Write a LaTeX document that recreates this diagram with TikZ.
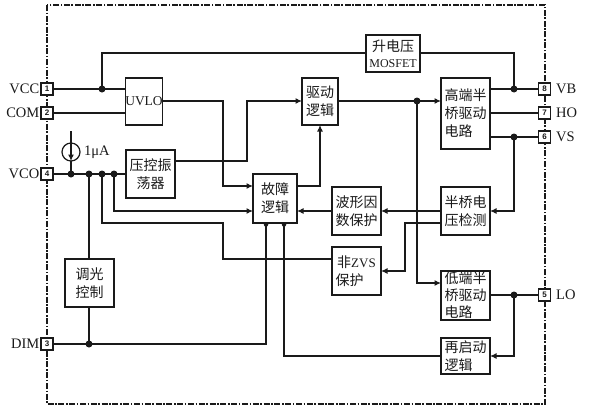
\documentclass[tikz,border=0pt]{standalone}
\usepackage{fontspec}
\setmainfont{Liberation Serif}
\setsansfont{Liberation Sans}
\newfontfamily\cjk{Noto Sans CJK SC}
\usetikzlibrary{arrows.meta}
\definecolor{ink}{HTML}{1A1A1A}
\tikzset{
  every node/.style={text=ink},
  blockbox/.style={draw=ink,line width=1.25pt,fill=white,inner sep=0pt,outer sep=0pt,align=center,
     font=\fontsize{14}{18}\selectfont\cjk},
  pinbox/.style={draw=ink,line width=1.25pt,fill=white,inner sep=0pt,outer sep=0pt,
     minimum width=12pt,minimum height=12pt,font=\fontsize{8}{8}\selectfont\sffamily\bfseries},
  pinlabel/.style={inner sep=0pt,font=\fontsize{14.5}{14.5}\selectfont},
  wire/.style={draw=ink,line width=1.25pt},
  arrowwire/.style={wire,-{Latex[length=6.5pt,width=6pt]}},
  joint/.style={circle,fill=ink,inner sep=0pt,outer sep=0pt,minimum size=7pt},
  smalljoint/.style={circle,fill=ink,inner sep=0pt,outer sep=0pt,minimum size=4.5pt},
  frameline/.style={draw=ink,line width=1.25pt,dash pattern=on 6pt off 1.6pt on 1.6pt off 1.6pt}
}
\begin{document}
\begin{tikzpicture}[x=1pt,y=-1pt]
\useasboundingbox (0,0) rectangle (591,407);
\fill[white] (0,0) rectangle (591,407);
\draw[frameline] (47,5) rectangle (545,404);

% blocks
\node[blockbox,minimum width=36pt,minimum height=47pt] (uvlo) at (144,101.5) {\rmfamily\fontsize{13.5}{13.5}\selectfont UVLO};
\node[blockbox,minimum width=49pt,minimum height=48pt] (vco) at (150.5,174) {压控振\\荡器};
\node[blockbox,minimum width=36pt,minimum height=47pt] (drv) at (320,101.5) {驱动\\逻辑};
\node[blockbox,minimum width=54pt,minimum height=37pt] (mos) at (393,53.5) {升电压\\[-2pt]\rmfamily\fontsize{12}{12}\selectfont MOSFET};
\node[blockbox,minimum width=49pt,minimum height=71pt] (high) at (465.5,113.5) {高端半\\桥驱动\\电路\phantom{驱}};
\node[blockbox,minimum width=49pt,minimum height=48pt] (sense) at (465.5,211) {半桥电\\压检测};
\node[blockbox,minimum width=49pt,minimum height=49pt,font=\fontsize{14}{17}\selectfont\cjk] (low) at (465.5,295.5) {低端半\\桥驱动\\电路\phantom{驱}};
\node[blockbox,minimum width=49pt,minimum height=36pt] (restart) at (465.5,356) {再启动\\逻辑\phantom{驱}};
\node[blockbox,minimum width=49pt,minimum height=48pt] (zvs) at (356.5,271) {非{\rmfamily\fontsize{13}{13}\selectfont ZVS}\\保护\phantom{驱}};
\node[blockbox,minimum width=49pt,minimum height=48pt] (wave) at (356.5,211) {波形因\\数保护};
\node[blockbox,minimum width=44pt,minimum height=49pt] (fault) at (275,198.5) {故障\\逻辑};
\node[blockbox,minimum width=49pt,minimum height=48pt] (dim) at (89.5,283) {调光\\控制};

% pins
\node[pinbox] (p1) at (47,89) {1};
\node[pinbox] (p2) at (47,113) {2};
\node[pinbox] (p4) at (47,174) {4};
\node[pinbox] (p3) at (47,344) {3};
\node[pinbox] (p8) at (544.5,89) {8};
\node[pinbox] (p7) at (544.5,113) {7};
\node[pinbox] (p6) at (544.5,137) {6};
\node[pinbox] (p5) at (544.5,295) {5};
\node[pinlabel,anchor=east] (l1) at (39.5,89) {VCC};
\node[pinlabel,anchor=east] (l2) at (39.5,113) {COM};
\node[pinlabel,anchor=east] (l4) at (39.5,174) {VCO};
\node[pinlabel,anchor=east] (l3) at (39.5,344) {DIM};
\node[pinlabel,anchor=west] (l8) at (556,89) {VB};
\node[pinlabel,anchor=west] (l7) at (556,113) {HO};
\node[pinlabel,anchor=west] (l6) at (556,137) {VS};
\node[pinlabel,anchor=west] (l5) at (556,295) {LO};

% junctions
\node[joint] (jvcc) at (102,89) {};
\node[joint] (jvb) at (514,89) {};
\node[joint] (jvs) at (514,137) {};
\node[joint] (jlo) at (514,295) {};
\node[joint] (jdrv) at (417,101) {};
\node[joint] (ja) at (71,174) {};
\node[joint] (jb) at (89,174) {};
\node[joint] (jc) at (102,174) {};
\node[joint] (jd) at (114,174) {};
\node[joint] (jdim) at (89,344) {};
\node[smalljoint] (jf1) at (266,224.5) {};
\node[smalljoint] (jf2) at (284,224.5) {};

% routing coordinates
\coordinate (u1) at (223,101);
\coordinate (u2) at (223,186);
\coordinate (v1) at (247,161);
\coordinate (v2) at (247,101);
\coordinate (f1) at (320,186);
\coordinate (t1) at (102,53);
\coordinate (t2) at (514,53);
\coordinate (d1) at (417,283);
\coordinate (s1) at (514,211);
\coordinate (n1) at (405,223);
\coordinate (n2) at (405,271);
\coordinate (z1) at (223,259);
\coordinate (z2) at (223,223);
\coordinate (c2) at (102,223);
\coordinate (e2) at (114,211);
\coordinate (g1) at (266,344);
\coordinate (h1) at (284,356);
\coordinate (r1) at (514,356);
\coordinate (i1) at (71,131);

% wires
\draw[wire] (p1.east) -- (jvcc.center) -- (uvlo.west |- jvcc);
\draw[wire] (p2) -- (uvlo.west |- p2);
\draw[wire] (p4.east) -- (vco.west |- p4);
\draw[wire] (jvcc.center) -- (t1) -- (mos.west |- t1);
\draw[wire] (mos.east |- t1) -- (t2) -- (jvb.center);
\draw[wire] (high.east |- p8) -- (p8.west);
\draw[wire] (high.east |- p7) -- (p7);
\draw[wire] (high.east |- p6) -- (p6.west);
\draw[arrowwire] (uvlo.east |- u1) -- (u1) -- (u2) -- (fault.west |- u2);
\draw[arrowwire] (vco.east |- v1) -- (v1) -- (v2) -- (drv.west |- v2);
\draw[arrowwire] (drv.east |- jdrv) -- (high.west |- jdrv);
\draw[arrowwire] (jdrv.center) -- (d1) -- (low.west |- d1);
\draw[arrowwire] (fault.east |- f1) -- (f1) -- (drv.south -| f1);
\draw[arrowwire] (jvs.center) -- (s1) -- (sense.east |- s1);
\draw[arrowwire] (sense.west |- s1) -- (wave.east |- s1);
\draw[arrowwire] (wave.west |- s1) -- (fault.east |- s1);
\draw[arrowwire] (sense.west |- n1) -- (n1) -- (n2) -- (zvs.east |- n2);
\draw[wire] (zvs.west |- z1) -- (z1) -- (z2) -- (c2) -- (jc.center);
\draw[arrowwire] (jd.center) -- (e2) -- (fault.west |- e2);
\draw[wire] (jb.center) -- (dim.north -| jb);
\draw[wire] (dim.south -| jb) -- (jdim.center);
\draw[wire] (p3.east) -- (g1) -- (jf1.center);
\draw[wire] (restart.west |- h1) -- (h1) -- (jf2.center);
\draw[arrowwire] (jlo.center) -- (r1) -- (restart.east |- r1);
\draw[wire] (low.east |- jlo) -- (p5.west);

% current source
\node[circle,draw=ink,line width=1.25pt,fill=white,minimum size=18pt,inner sep=0pt,outer sep=0pt] (src) at (71,152) {};
\draw[wire] (i1) -- (src.north);
\draw[wire] (src.south) -- (ja.center);
\draw[arrowwire] (src.north) -- (src.south);
\node[pinlabel,anchor=west] (ua) at (84,152) {1μA};
\end{tikzpicture}
\end{document}
